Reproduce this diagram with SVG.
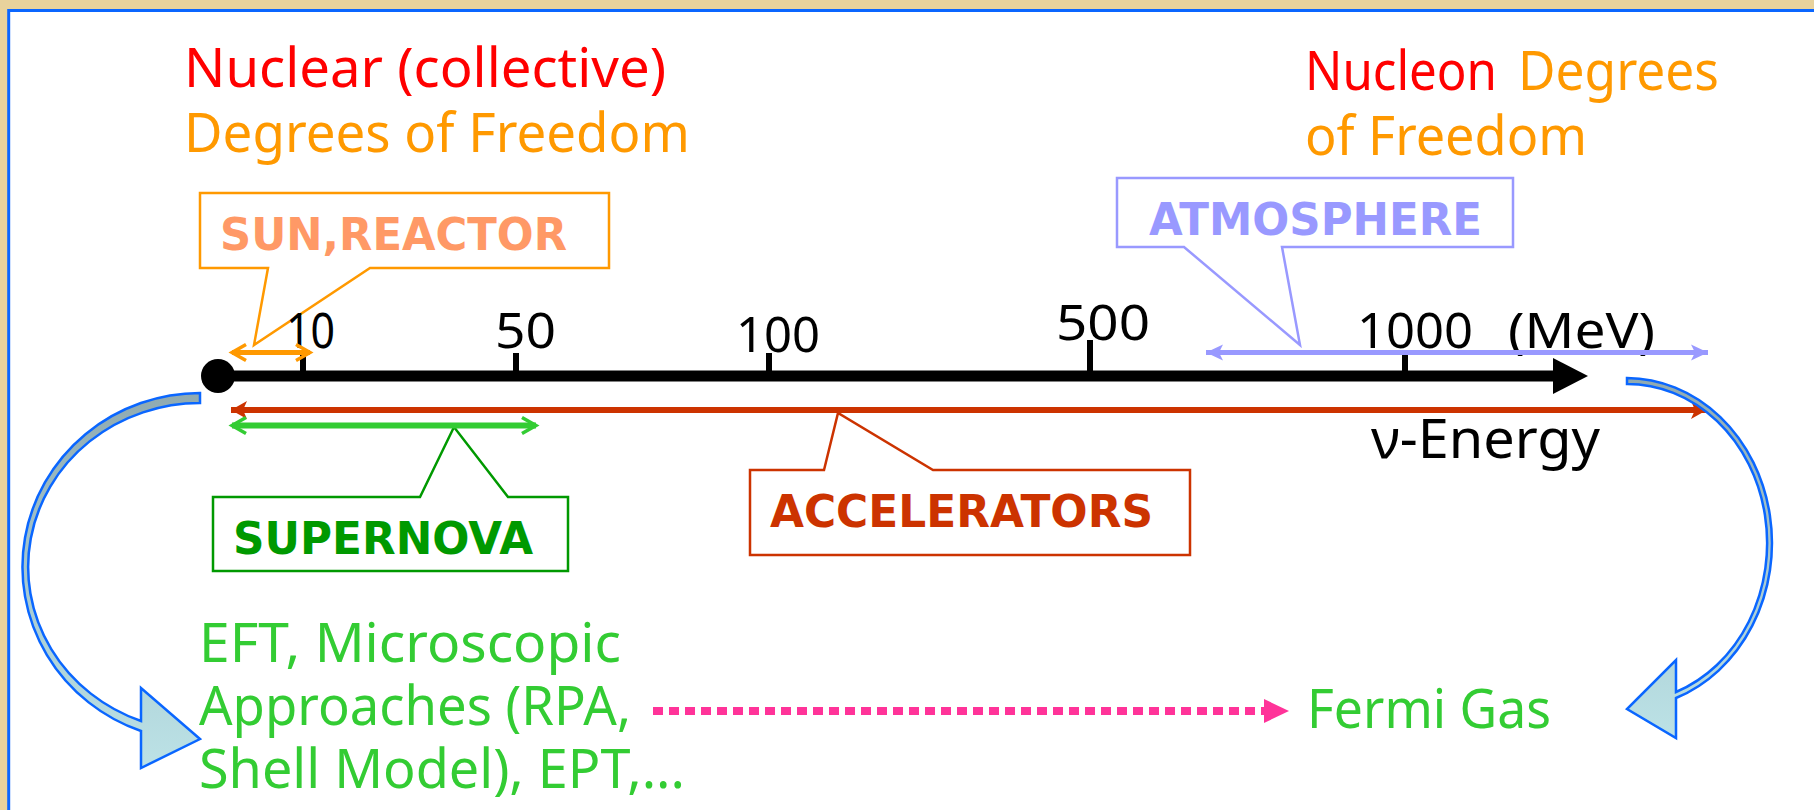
<svg xmlns="http://www.w3.org/2000/svg" width="1814" height="810" viewBox="0 0 1814 810">
<style>
.hand{font-family:"Noto Sans","DejaVu Sans",sans-serif;}
.lbl{font-family:"DejaVu Sans","Liberation Sans",sans-serif;font-weight:bold;font-size:44px;}
.callout{fill:#ffffff;stroke-width:2.5;}
.red{fill:#ff0000;}
.orange{fill:#ff9900;}
.green{fill:#33cc33;}
.tick{fill:#000000;}
.num{font-size:50px;fill:#000000;}
.curved{fill:url(#bandGrad);stroke:#0a66ff;stroke-width:2.5;stroke-linejoin:miter;}
</style>
<defs>
<linearGradient id="bandGrad" x1="0" y1="0" x2="0" y2="1">
<stop offset="0" stop-color="#90aab0"/>
<stop offset="0.55" stop-color="#a9ccd2"/>
<stop offset="1" stop-color="#bce2e6"/>
</linearGradient>
<marker id="vOrange" markerUnits="userSpaceOnUse" markerWidth="22" markerHeight="22" viewBox="0 0 22 22" refX="18" refY="11" orient="auto-start-reverse">
<path d="M4,3 L18,11 L4,19" fill="none" stroke="#ff9900" stroke-width="3.5"/>
</marker>
<marker id="vGreen" markerUnits="userSpaceOnUse" markerWidth="22" markerHeight="22" viewBox="0 0 22 22" refX="18" refY="11" orient="auto-start-reverse">
<path d="M4,3 L18,11 L4,19" fill="none" stroke="#33cc33" stroke-width="3.5"/>
</marker>
<marker id="sRed" markerUnits="userSpaceOnUse" markerWidth="22" markerHeight="22" viewBox="0 0 22 22" refX="18" refY="11" orient="auto-start-reverse">
<path d="M2,2 L18,11 L2,20 L6,11 Z" fill="#cc3300"/>
</marker>
<marker id="sLav" markerUnits="userSpaceOnUse" markerWidth="22" markerHeight="22" viewBox="0 0 22 22" refX="18" refY="11" orient="auto-start-reverse">
<path d="M1,3 L18,11 L1,19 L5,11 Z" fill="#9999ff"/>
</marker>
</defs>

<rect x="0" y="0" width="1814" height="810" fill="#e8d29c"/>
<rect id="frame" x="8.7" y="10.5" width="1830" height="830" fill="#ffffff" stroke="#0a66ff" stroke-width="3"/>

<g id="title-left" class="hand">
<text x="184" y="87" font-size="54" class="red" textLength="482" lengthAdjust="spacingAndGlyphs">Nuclear (collective)</text>
<text x="184" y="152" font-size="54" class="orange" textLength="506" lengthAdjust="spacingAndGlyphs">Degrees of Freedom</text>
</g>

<g id="title-right" class="hand">
<text x="1305" y="90" font-size="54" class="red" textLength="192" lengthAdjust="spacingAndGlyphs">Nucleon</text>
<text x="1518" y="90" font-size="54" class="orange" textLength="201" lengthAdjust="spacingAndGlyphs">Degrees</text>
<text x="1305" y="155" font-size="54" class="orange" textLength="282" lengthAdjust="spacingAndGlyphs">of Freedom</text>
</g>

<g id="sun-reactor">
<path class="callout" stroke="#ff9900" d="M200,193 H609 V268 H370 L254,345 L268,268 H200 Z"/>
<text class="lbl" x="220" y="250" fill="#ff9966" textLength="347" lengthAdjust="spacingAndGlyphs">SUN,REACTOR</text>
</g>

<g id="atmosphere">
<path class="callout" stroke="#9999ff" d="M1117,178 H1513 V247 H1282 L1300,345 L1184,247 H1117 Z"/>
<text class="lbl" x="1149" y="235" fill="#9999ff" textLength="333" lengthAdjust="spacingAndGlyphs">ATMOSPHERE</text>
</g>

<g id="accelerators">
<path class="callout" stroke="#cc3300" d="M750,470 H824 L838,413 L933,470 H1190 V555 H750 Z"/>
<text class="lbl" x="770" y="527" fill="#cc3300" textLength="383" lengthAdjust="spacingAndGlyphs">ACCELERATORS</text>
</g>

<g id="supernova">
<path class="callout" stroke="#009900" d="M213,497 H420 L454,427 L508,497 H568 V571 H213 Z"/>
<text class="lbl" x="233" y="554" fill="#009900" textLength="300" lengthAdjust="spacingAndGlyphs">SUPERNOVA</text>
</g>

<g id="axis">
<line x1="218" y1="376" x2="1556" y2="376" stroke="#000000" stroke-width="11"/>
<polygon points="1553,358 1588,376 1553,394" fill="#000000"/>
<circle cx="218" cy="376" r="17" fill="#000000"/>
<rect class="tick" x="300" y="353" width="6" height="20"/>
<rect class="tick" x="513" y="353" width="6" height="20"/>
<rect class="tick" x="766" y="353" width="6" height="20"/>
<rect class="tick" x="1087" y="340" width="6" height="33"/>
<rect class="tick" x="1402" y="355" width="6" height="18"/>
<g class="hand num">
<text x="286" y="348" textLength="49" lengthAdjust="spacingAndGlyphs">10</text>
<text x="495" y="348" textLength="61" lengthAdjust="spacingAndGlyphs">50</text>
<text x="736" y="352" textLength="84" lengthAdjust="spacingAndGlyphs">100</text>
<text x="1056" y="340" textLength="94" lengthAdjust="spacingAndGlyphs">500</text>
<text x="1357" y="348" textLength="116" lengthAdjust="spacingAndGlyphs">1000</text>
<text x="1508" y="348" textLength="147" lengthAdjust="spacingAndGlyphs">(MeV)</text>
</g>
<text class="hand" x="1371" y="458" font-size="54" fill="#000000" textLength="229" lengthAdjust="spacingAndGlyphs">ν-Energy</text>
</g>

<g id="eft-text" class="hand green" font-size="54">
<text x="199" y="662" textLength="422" lengthAdjust="spacingAndGlyphs">EFT, Microscopic</text>
<text x="199" y="725" textLength="432" lengthAdjust="spacingAndGlyphs">Approaches (RPA,</text>
<text x="199" y="788" textLength="486" lengthAdjust="spacingAndGlyphs">Shell Model), EPT,...</text>
</g>

<g id="fermi-gas" class="hand green" font-size="54">
<text x="1307" y="728" textLength="244" lengthAdjust="spacingAndGlyphs">Fermi Gas</text>
</g>

<g id="connectors">
<line x1="232" y1="352.5" x2="310" y2="352.5" stroke="#ff9900" stroke-width="5" marker-start="url(#vOrange)" marker-end="url(#vOrange)"/>
<line x1="1206" y1="352.5" x2="1708" y2="352.5" stroke="#9999ff" stroke-width="5" marker-start="url(#sLav)" marker-end="url(#sLav)"/>
<line x1="231" y1="410" x2="1707" y2="410" stroke="#cc3300" stroke-width="6" marker-start="url(#sRed)" marker-end="url(#sRed)"/>
<line x1="232" y1="425.5" x2="536" y2="425.5" stroke="#33cc33" stroke-width="6" marker-start="url(#vGreen)" marker-end="url(#vGreen)"/>
<line x1="653" y1="711" x2="1264" y2="711" stroke="#ff3399" stroke-width="8" stroke-dasharray="10 6"/>
<polygon points="1264,699 1289,711 1264,723" fill="#ff3399"/>
<path id="curve-left" class="curved" d="M200,393 A178,174 0 0 0 141,731 L141,768 L200,739 L141,688 L141,721 A172,164 0 0 1 200,403 Z"/>
<path id="curve-right" class="curved" d="M1627,378 A146,165 0 0 1 1676,698 L1676,738 L1627,709 L1676,660 L1676,692 A140,159 0 0 0 1627,384 Z"/>
</g>
</svg>
